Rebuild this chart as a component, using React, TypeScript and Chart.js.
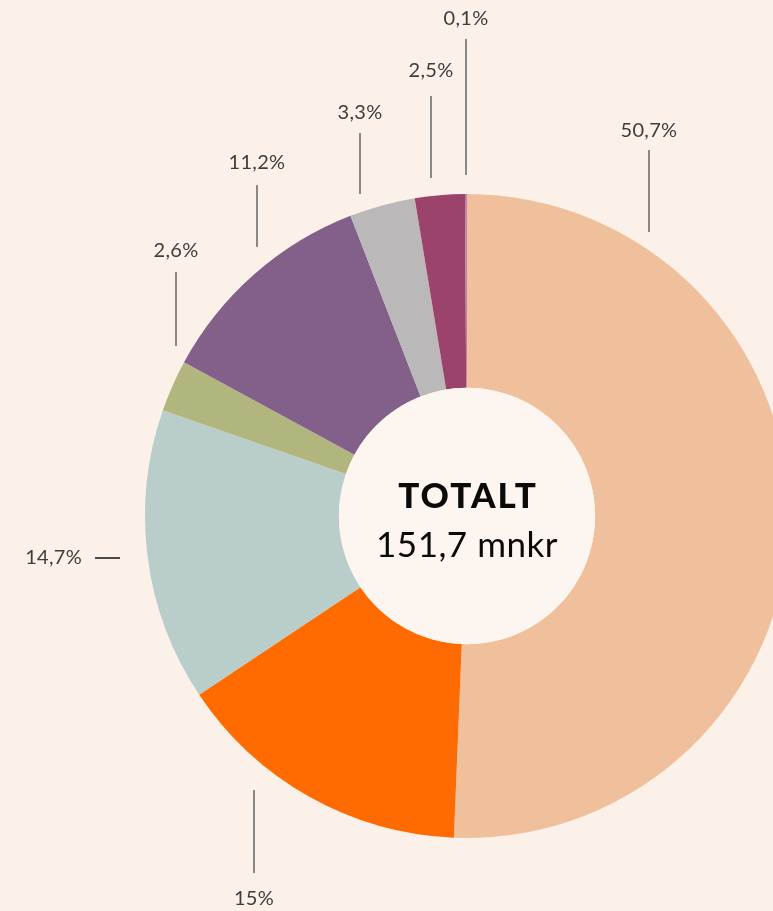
import React, { useEffect, useRef } from "react";
import { Chart, registerables } from "chart.js";

Chart.register(...registerables);

const categories = ["A", "B", "C", "D", "E", "F", "G", "H"];
const shares = [50.7, 15, 14.7, 2.6, 11.2, 3.3, 2.5, 0.1];
const colors = ["#f0c09c", "#ff6b00", "#b9cdca", "#b0b67e", "#82608a", "#bab8b9", "#9c436c", "#c67ea6"];
const centerTitle = "TOTALT";
const centerValue = "151,7 mnkr";

// label leader layout (offsets from the doughnut centre, pixels)
const labelLayout = [
  { kind: "v", dx: 182, y1: -366, y2: -284, ly: -385 },
  { kind: "v", dx: -213, y1: 274, y2: 357, ly: 383 },
  { kind: "h", x1: -372, x2: -347, dy: 42, lx: -385 },
  { kind: "v", dx: -291, y1: -244, y2: -170, ly: -265 },
  { kind: "v", dx: -210, y1: -331, y2: -269, ly: -353 },
  { kind: "v", dx: -107, y1: -383, y2: -322, ly: -403 },
  { kind: "v", dx: -36, y1: -420, y2: -338, ly: -445 },
  { kind: "v", dx: -1, y1: -477, y2: -341, ly: -497 },
];

const fmt = (v: number) => String(v).replace(".", ",") + "%";

const decor = {
  id: "decor",
  afterDatasetsDraw(chart: any) {
    const arc = chart.getDatasetMeta(0).data[0];
    if (!arc) return;
    const cx = arc.x, cy = arc.y;
    const ctx = chart.ctx;
    ctx.save();
    ctx.beginPath();
    ctx.arc(cx, cy, arc.innerRadius, 0, Math.PI * 2);
    ctx.fillStyle = "#fdf5f0";
    ctx.fill();
    ctx.textAlign = "center";
    ctx.textBaseline = "middle";
    ctx.fillStyle = "#0a0a0a";
    ctx.font = "900 35px Lato";
    (ctx as any).letterSpacing = "2px";
    ctx.fillText(centerTitle, cx + 1, cy - 19);
    (ctx as any).letterSpacing = "0.5px";
    ctx.font = "normal 35px Lato";
    ctx.fillText(centerValue, cx, cy + 30);
    (ctx as any).letterSpacing = "0.3px";

    ctx.font = "normal 20px Lato";
    ctx.fillStyle = "#3d3d3d";
    shares.forEach((v, i) => {
      const L: any = labelLayout[i];
      const txt = fmt(v);
      ctx.lineWidth = 1.5;
      if (L.kind === "v") {
        ctx.strokeStyle = "#666";
        ctx.beginPath();
        ctx.moveTo(cx + L.dx, cy + L.y1);
        ctx.lineTo(cx + L.dx, cy + L.y2);
        ctx.stroke();
        ctx.textAlign = "center";
        ctx.fillText(txt, cx + L.dx, cy + L.ly);
      } else {
        ctx.strokeStyle = "#111";
        ctx.beginPath();
        ctx.moveTo(cx + L.x1, cy + L.dy);
        ctx.lineTo(cx + L.x2, cy + L.dy);
        ctx.stroke();
        ctx.textAlign = "right";
        ctx.fillText(txt, cx + L.lx, cy + L.dy);
      }
    });
    ctx.restore();
  },
};

export default function App() {
  const ref = useRef<HTMLCanvasElement>(null);
  useEffect(() => {
    if (!ref.current) return;
    const chart = new Chart(ref.current, {
      type: "doughnut",
      data: {
        labels: categories,
        datasets: [
          {
            data: shares,
            backgroundColor: colors,
            borderWidth: 0,
          },
        ],
      },
      options: {
        responsive: false,
        animation: false,
        cutout: "39.8%",
        layout: { padding: { left: 145, right: 145, top: 194, bottom: 194 } },
        plugins: { legend: { display: false }, tooltip: { enabled: false } },
      },
      plugins: [decor],
    });
    return () => chart.destroy();
  }, []);
  return (
    <div style={{ position: "fixed", left: 0, top: 0, width: 773, height: 911, overflow: "hidden", background: "#fcf1e9" }}>
      <canvas ref={ref} width={934} height={1032} style={{ position: "absolute", left: 0, top: 0, width: 934, height: 1032 }} />
    </div>
  );
}
